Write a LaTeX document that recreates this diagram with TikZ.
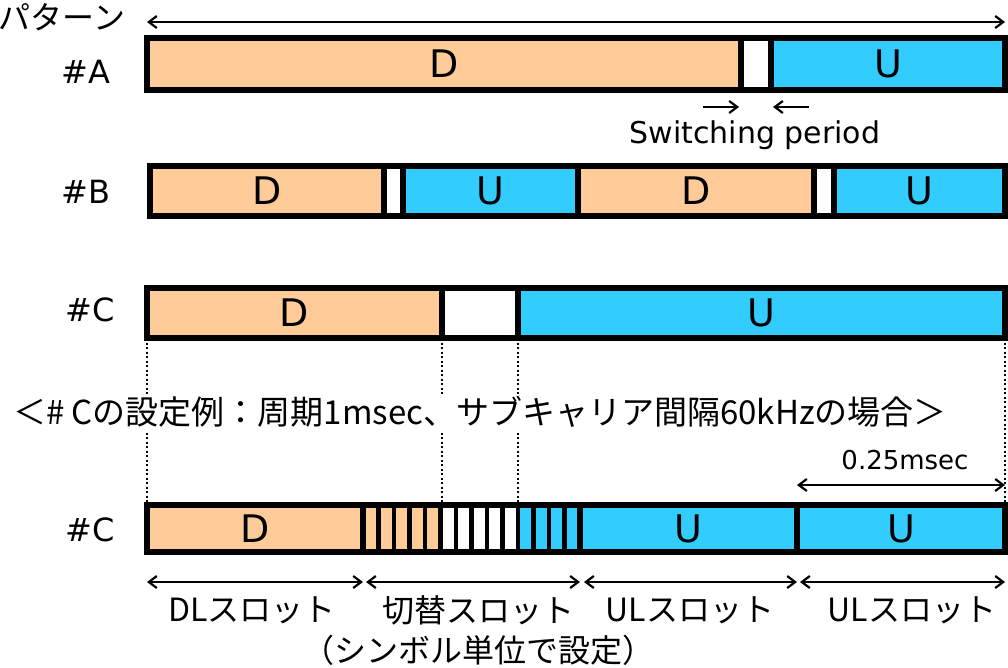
\documentclass[tikz,border=0pt]{standalone}
\usepackage{fontspec}
\setmainfont{DejaVu Sans}
\newfontfamily\jp{Noto Sans CJK JP}
\usetikzlibrary{arrows.meta}
\definecolor{dlc}{HTML}{FFCC99}
\definecolor{ulc}{HTML}{33CCFF}
\tikzset{
 seg/.style={draw=black, line width=6pt, inner sep=0pt, outer sep=0pt, font=\fontsize{38}{40}\selectfont},
 dl/.style={seg, fill=dlc}, ul/.style={seg, fill=ulc}, sw/.style={seg, fill=white},
 gap/.style={seg, fill=none},
 sym/.style={draw=black, line width=4.5pt, inner sep=0pt, outer sep=0pt},
 dim/.style={line width=2.2pt, {Straight Barb[length=8pt,width=12pt]}-{Straight Barb[length=8pt,width=12pt]}},
 oneway/.style={line width=2.2pt, -{Straight Barb[length=8pt,width=12pt]}},
 guide/.style={line width=2.2pt, dash pattern=on 2pt off 2.5pt},
 lab/.style={font=\fontsize{32}{34}\selectfont, inner sep=1pt},
 jlab/.style={font=\jp\fontsize{32}{34}\selectfont, inner sep=1pt},
}
\newcommand\seg[6]{\node[#6, minimum width={#3-#2}, minimum height={#5-#4}] (#1) at ({(#2+#3)/2},{(#4+#5)/2})}
\begin{document}
\begin{tikzpicture}[x=1pt,y=-1pt]
\useasboundingbox (0,0) rectangle (1008,667);

% top pattern arrow
\node[jlab] (pat) at (62,17) {パターン};
\coordinate (pL) at (147,22);
\coordinate (pR) at (1005,22);
\draw[dim] (pL) -- (pR);

% row A
\node[lab] (lA) at (86,72) {\#A};
\seg{a1}{147}{741}{38}{90}{dl}{D};
\seg{a2}{741}{771}{38}{90}{sw}{};
\seg{a3}{771}{1005}{38}{90}{ul}{U};
\coordinate (swL) at (703,107);
\coordinate (swR) at (809,107);
\draw[guide] ([yshift=-3pt]a2.south west) -- ++(0,-28);
\draw[guide] ([yshift=-3pt]a2.south east) -- ++(0,-28);
\draw[oneway] (swL) -- ([xshift=-2pt]swL -| a2.west);
\draw[oneway] (swR) -- ([xshift=2pt]swR -| a2.east);
\node[font=\fontsize{30}{32}\selectfont, inner sep=1pt] (swt) at (755,135) {Switching period};

% row B
\node[lab] (lB) at (86,192) {\#B};
\seg{b1}{150}{384}{166}{216}{dl}{D};
\seg{b2}{384}{403}{166}{216}{sw}{};
\seg{b3}{403}{578}{166}{216}{ul}{U};
\seg{b4}{578}{814}{166}{216}{dl}{D};
\seg{b5}{814}{834}{166}{216}{sw}{};
\seg{b6}{834}{1005}{166}{216}{ul}{U};

% row C
\node[lab] (lC) at (90,310) {\#C};
\seg{c1}{147}{442}{288}{338}{dl}{D};
\seg{c2}{442}{518}{288}{338}{sw}{};
\seg{c3}{518}{1005}{288}{338}{ul}{U};

% bottom row C (detail)
\node[lab] (lC2) at (90,530) {\#C};
\seg{d1}{147}{363}{505}{552}{dl}{D};
\foreach \i in {0,...,13}{
  \pgfmathsetmacro\xa{363+15.5*\i}
  \pgfmathsetmacro\xb{363+15.5*(\i+1)}
  \ifnum\i<5 \def\fc{dlc}\else\ifnum\i<10 \def\fc{white}\else\def\fc{ulc}\fi\fi
  \seg{s\i}{\xa}{\xb}{505}{552}{sym, fill=\fc}{};
}
\seg{d2}{363}{580}{505}{552}{gap}{};
\seg{d3}{580}{797}{505}{552}{ul}{U};
\seg{d4}{797}{1005}{505}{552}{ul}{U};

% guides from row C to detail
\draw[guide] (c1.south west) -- (d1.north west);
\draw[guide] (c2.south west) -- (c2.south west |- d1.north);
\draw[guide] (c2.south east) -- (c2.south east |- d1.north);
\draw[guide] (c3.south east) -- (d4.north east);
\draw[guide] (d4.north west) -- ++(0,30);

% title
\node[jlab, fill=white, inner sep=2pt, font=\jp\fontsize{33}{35}\selectfont] (title) at (480,412) {＜\# Cの設定例：周期1msec、サブキャリア間隔60kHzの場合＞};

% 0.25 msec
\coordinate (qL) at (797,485);
\coordinate (qR) at (1005,485);
\draw[dim] (qL) -- (qR);
\node[font=\fontsize{26}{28}\selectfont] (qt) at (905,460) {0.25msec};

% bottom slot arrows
\coordinate (e0) at (147,582);
\coordinate (e1) at (363,582);
\coordinate (e2) at (366,582);
\coordinate (e3) at (580,582);
\coordinate (e4) at (584,582);
\coordinate (e5) at (797,582);
\coordinate (e6) at (800,582);
\coordinate (e7) at (1005,582);
\draw[dim] (e0) -- (e1);
\draw[dim] (e2) -- (e3);
\draw[dim] (e4) -- (e5);
\draw[dim] (e6) -- (e7);
\node[jlab] (t1) at (252,610) {DLスロット};
\node[jlab] (t2) at (478,610) {切替スロット};
\node[jlab] (t3) at (690,610) {ULスロット};
\node[jlab] (t4) at (912,610) {ULスロット};
\node[jlab] (t5) at (478,650) {（シンボル単位で設定）};
\end{tikzpicture}
\end{document}
